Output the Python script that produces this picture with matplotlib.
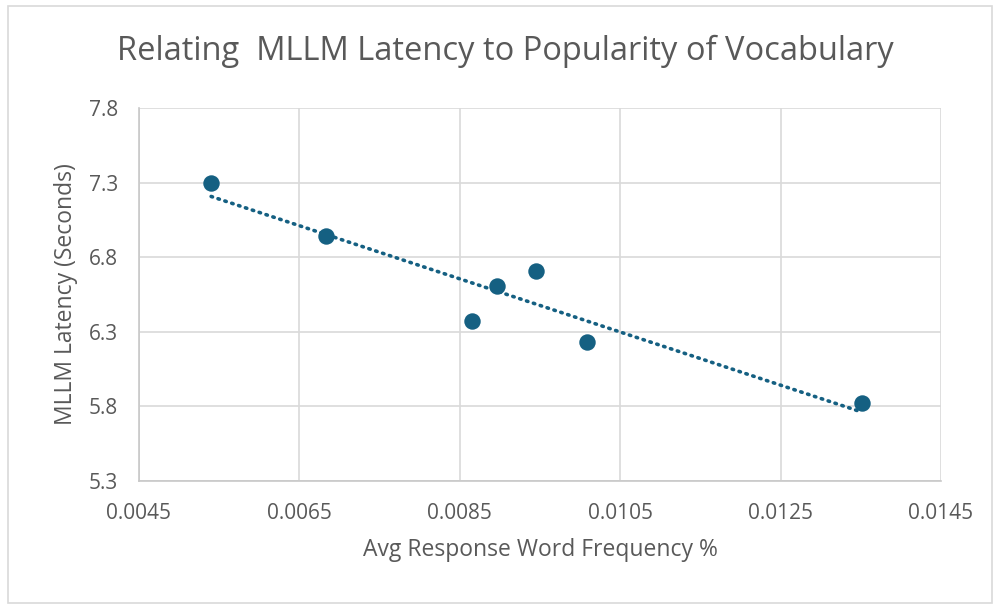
import matplotlib.pyplot as plt
from matplotlib.patches import Rectangle
import numpy as np

plt.rcParams['font.family'] = ['Open Sans', 'DejaVu Sans']

# avg response word frequency (%) vs MLLM latency (s)
word_freq = [0.0054, 0.00683, 0.00865, 0.00896, 0.00945, 0.01009, 0.01351]
latency = [7.30, 6.94, 6.37, 6.61, 6.71, 6.23, 5.82]

x_ticks = [0.0045, 0.0065, 0.0085, 0.0105, 0.0125, 0.0145]
y_ticks = [5.3, 5.8, 6.3, 6.8, 7.3, 7.8]

blue = '#156082'
text_col = '#595959'

fig = plt.figure(figsize=(9.94, 6.05), dpi=100)
ax = fig.add_axes([0.1398, 0.2055, 0.8069, 0.6155])

# outer chart border
fig.patches.append(Rectangle((8 / 994, 2 / 605), 984 / 994, 597 / 605,
                             transform=fig.transFigure, fill=False,
                             edgecolor='#d9d9d9', linewidth=1.2))

ax.scatter(word_freq, latency, s=140, color=blue, zorder=3, linewidths=0)

# linear trendline
k, b = np.polyfit(word_freq, latency, 1)
xs = np.array([min(word_freq), max(word_freq)])
ax.plot(xs, k * xs + b, color=blue, linewidth=2.6, linestyle=(0, (0.4, 1.6)),
        dash_capstyle='round', zorder=2)

ax.set_xlim(0.0045, 0.0145)
ax.set_ylim(5.3, 7.8)
ax.set_xticks(x_ticks)
ax.set_yticks(y_ticks)
ax.set_xticklabels([f'{v:.4f}' for v in x_ticks])
ax.set_yticklabels([f'{v:.1f}' for v in y_ticks])
ax.grid(True, color='#d9d9d9', linewidth=1.2)
ax.set_axisbelow(True)
for side in ['top', 'right']:
    ax.spines[side].set_visible(False)
for side in ['left', 'bottom']:
    ax.spines[side].set_color('#c8c8c8')
    ax.spines[side].set_linewidth(1.2)
ax.tick_params(length=0, labelsize=15, labelcolor=text_col)
ax.tick_params(axis='x', pad=16)
ax.tick_params(axis='y', pad=15)

ax.set_xlabel('Avg Response Word Frequency %', fontsize=16.5, color=text_col, labelpad=10)
ax.set_ylabel('MLLM Latency (Seconds)', fontsize=16.5, color=text_col, labelpad=8)
fig.text(0.508, 0.915, 'Relating  MLLM Latency to Popularity of Vocabulary',
         ha='center', va='center', fontsize=23.5, color=text_col)

fig.savefig('out.png', dpi=100)
